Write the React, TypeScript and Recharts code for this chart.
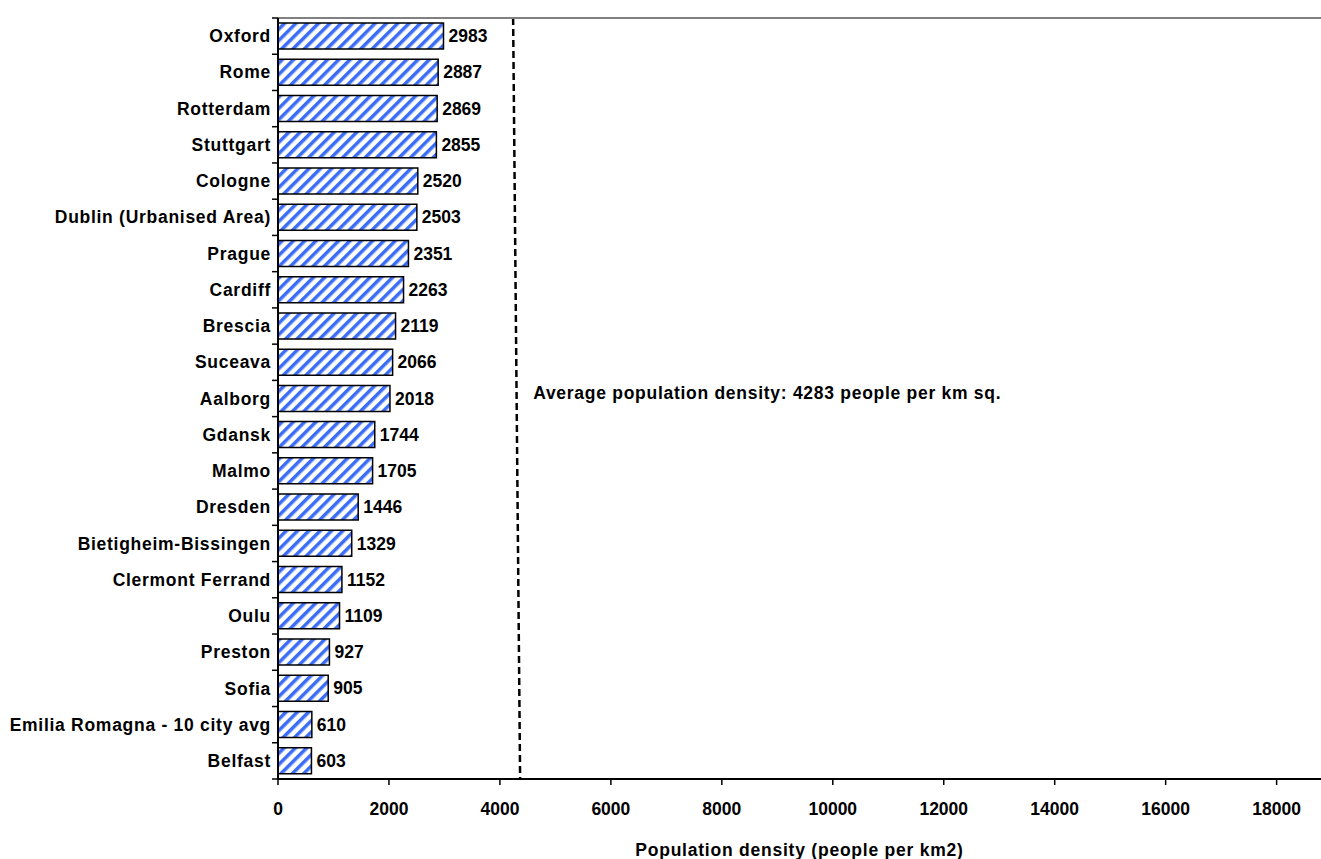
import { BarChart, Bar, XAxis, YAxis, LabelList, ReferenceLine } from 'recharts';

const cities = [
  'Oxford',
  'Rome',
  'Rotterdam',
  'Stuttgart',
  'Cologne',
  'Dublin (Urbanised Area)',
  'Prague',
  'Cardiff',
  'Brescia',
  'Suceava',
  'Aalborg',
  'Gdansk',
  'Malmo',
  'Dresden',
  'Bietigheim-Bissingen',
  'Clermont Ferrand',
  'Oulu',
  'Preston',
  'Sofia',
  'Emilia Romagna - 10 city avg',
  'Belfast',
];

const density = [
  2983, 2887, 2869, 2855, 2520, 2503, 2351, 2263, 2119, 2066, 2018, 1744, 1705, 1446, 1329, 1152, 1109, 927,
  905, 610, 603,
];

const xTicks = [0, 2000, 4000, 6000, 8000, 10000, 12000, 14000, 16000, 18000];

const AVERAGE = 4283;
const averageText = `Average population density: ${AVERAGE} people per km sq.`;

const data = cities.map((name, i) => ({ name, value: density[i] }));

const W = 1321;
const H = 859;
const TOP = 17;
const AXIS_W = 278;
const X_AXIS_H = 80;
const BAND = (H - TOP - 1 - X_AXIS_H) / cities.length;
const FONT = '"Liberation Sans", Arial, sans-serif';
const SPACING = 0.72;

const CityTick = (props: any) => {
  const { y, payload, index } = props;
  return (
    <g>
      <text
        x={AXIS_W - 7}
        y={y}
        dy="0.35em"
        textAnchor="end"
        fontFamily={FONT}
        fontSize={17.5}
        fontWeight="bold"
        letterSpacing={SPACING}
        fill="#000"
      >
        {payload.value}
      </text>
      <line x1={AXIS_W - 6} x2={AXIS_W} y1={y - BAND / 2} y2={y - BAND / 2} stroke="#000" strokeWidth={1.5} />
      {index === cities.length - 1 && (
        <line x1={AXIS_W - 6} x2={AXIS_W} y1={y + BAND / 2} y2={y + BAND / 2} stroke="#000" strokeWidth={1.5} />
      )}
    </g>
  );
};

// the average line leans a little to the right going down in the original
const AverageLine = (props: any) => {
  const { x1, y1, x2, y2 } = props;
  const top = Math.min(y1, y2);
  const bottom = Math.max(y1, y2);
  const x = (x1 + x2) / 2;
  return (
    <line
      x1={x - 2.5}
      y1={top}
      x2={x + 4.5}
      y2={bottom}
      stroke="#000"
      strokeWidth={2.5}
      strokeDasharray="7 4"
    />
  );
};

const AverageLabel = (props: any) => {
  const { x, y, height } = props.viewBox;
  return (
    <text
      x={x + 17.6}
      y={y + height / 2 + 0.5}
      fontFamily={FONT}
      fontSize={17.5}
      fontWeight="bold"
      letterSpacing={SPACING}
      fill="#000"
    >
      {averageText}
    </text>
  );
};

export default function App() {
  return (
    <div style={{ position: 'absolute', left: 0, top: 0, background: '#fff' }}>
      <BarChart
        width={W}
        height={H}
        data={data}
        layout="vertical"
        margin={{ top: TOP, right: 0, bottom: 0, left: 0 }}
        barSize={26}
      >
        <defs>
          <pattern id="hatch" patternUnits="userSpaceOnUse" width={8} height={8} patternTransform="rotate(45)">
            <rect x={0} y={0} width={8} height={8} fill="#fff" />
            <rect x={0} y={0} width={3.5} height={8} fill="#3a6cf6" />
          </pattern>
        </defs>
        <XAxis
          type="number"
          domain={[0, 18800]}
          ticks={xTicks}
          allowDataOverflow
          height={X_AXIS_H}
          axisLine={{ stroke: '#000', strokeWidth: 2 }}
          tickLine={{ stroke: '#000', strokeWidth: 1.5 }}
          tickSize={6}
          tickMargin={18}
          tick={{ fill: '#000', fontFamily: FONT, fontSize: 17.5, fontWeight: 'bold' }}
          label={{
            value: 'Population density (people per km2)',
            position: 'insideBottom',
            dy: 2,
            fill: '#000',
            fontFamily: FONT,
            fontSize: 17.5,
            fontWeight: 'bold',
            letterSpacing: 0.77,
          }}
        />
        <XAxis
          xAxisId="top"
          orientation="top"
          type="number"
          domain={[0, 18800]}
          height={1}
          tick={false}
          tickLine={false}
          axisLine={{ stroke: '#808080', strokeWidth: 2 }}
        />
        <YAxis
          type="category"
          dataKey="name"
          width={AXIS_W}
          axisLine={{ stroke: '#000', strokeWidth: 2 }}
          tickLine={false}
          tick={<CityTick />}
          interval={0}
        />
        <Bar dataKey="value" fill="url(#hatch)" stroke="#000" strokeWidth={1.5} isAnimationActive={false}>
          <LabelList
            dataKey="value"
            position="right"
            offset={5}
            fill="#000"
            fontFamily={FONT}
            fontSize={17.5}
            fontWeight="bold"
          />
        </Bar>
        <ReferenceLine x={AVERAGE} shape={<AverageLine />} label={<AverageLabel />} />
      </BarChart>
    </div>
  );
}
